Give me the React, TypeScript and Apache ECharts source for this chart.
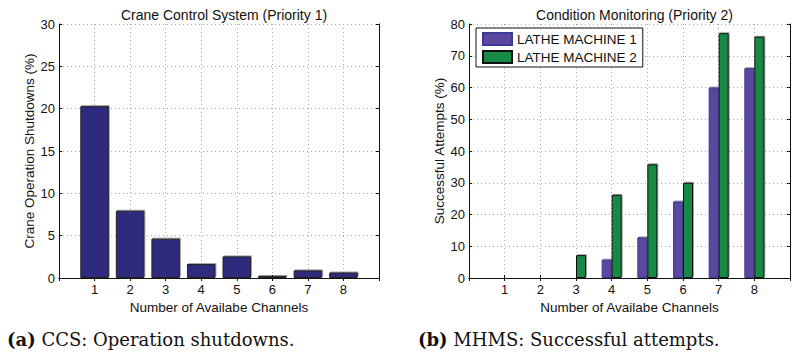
import React, { useEffect, useRef } from "react";
import * as echarts from "echarts";

const categories = ["1", "2", "3", "4", "5", "6", "7", "8"];
const ccsShutdowns = [20.3, 7.95, 4.65, 1.65, 2.55, 0.25, 0.9, 0.65];
const lathe1 = [0, 0, 0, 5.8, 12.8, 24.1, 60.0, 66.1];
const lathe2 = [0, 0, 7.2, 26.2, 35.8, 30.0, 77.1, 76.0];
const seriesNames = ["LATHE MACHINE 1", "LATHE MACHINE 2"];
const titles = ["Crane Control System (Priority 1)", "Condition Monitoring (Priority 2)"];
const yNames = ["Crane Operation Shutdowns (%)", "Successful Attempts (%)"];
const xName = "Number of Availabe Channels";
const captions = [
  ["(a)", " CCS: Operation shutdowns."],
  ["(b)", " MHMS: Successful attempts."],
];

const SANS = "Liberation Sans, Arial, sans-serif";
const padCats = ["", ...categories, ""];
const pad = (arr: number[]) => ["-", ...arr, "-"];

export default function App() {
  const ref = useRef<HTMLDivElement>(null);
  useEffect(() => {
    document.body.style.margin = "0";
    const chart = echarts.init(ref.current!, null, { renderer: "svg" });
    const grids = [
      { left: 59, top: 24, width: 320, height: 254 },
      { left: 469, top: 24, width: 321, height: 254 },
    ];
    const yMax = [30, 80];
    const yInt = [5, 10];
    const splitStyle = { color: "#a8a8a8", width: 1, type: [1, 3] as any };
    const xAxes: any[] = [];
    const yAxes: any[] = [];
    grids.forEach((_, i) => {
      xAxes.push({
        type: "category",
        gridIndex: i,
        data: padCats,
        boundaryGap: false,
        position: "bottom",
        name: xName,
        nameLocation: "middle",
        nameGap: 20,
        nameTextStyle: { fontFamily: SANS, fontSize: 13.5, color: "#111" },
        axisLine: { show: true, lineStyle: { color: "#111", width: 1 } },
        axisTick: { show: true, inside: true, length: 3, interval: 0, lineStyle: { color: "#111" } },
        axisLabel: { show: true, interval: 0, fontFamily: SANS, fontSize: 13, color: "#111", margin: 5 },
        splitLine: { show: true, interval: 0, lineStyle: splitStyle },
      });
      xAxes.push({
        type: "category",
        gridIndex: i,
        data: padCats,
        boundaryGap: false,
        position: "top",
        axisLine: { show: true, lineStyle: { color: "#111", width: 1 } },
        axisTick: { show: true, inside: true, length: 3, interval: 0, lineStyle: { color: "#111" } },
        axisLabel: { show: false },
        splitLine: { show: false },
      });
      yAxes.push({
        type: "value",
        gridIndex: i,
        min: 0,
        max: yMax[i],
        interval: yInt[i],
        position: "left",
        name: yNames[i],
        nameLocation: "middle",
        nameGap: i === 0 ? 22 : 21,
        nameTextStyle: { fontFamily: SANS, fontSize: 13.5, color: "#111" },
        axisLine: { show: true, lineStyle: { color: "#111", width: 1 } },
        axisTick: { show: true, inside: true, length: 3, lineStyle: { color: "#111" } },
        axisLabel: { fontFamily: SANS, fontSize: 13, color: "#111", margin: 4 },
        splitLine: { show: true, lineStyle: splitStyle },
      });
      yAxes.push({
        type: "value",
        gridIndex: i,
        min: 0,
        max: yMax[i],
        interval: yInt[i],
        position: "right",
        axisLine: { show: true, lineStyle: { color: "#111", width: 1 } },
        axisTick: { show: true, inside: true, length: 3, lineStyle: { color: "#111" } },
        axisLabel: { show: false },
        splitLine: { show: false },
      });
    });

    const shadow = { shadowColor: "rgba(0,0,0,0.35)", shadowOffsetX: 1, shadowOffsetY: -1, shadowBlur: 0 };

    chart.setOption({
      animation: false,
      backgroundColor: "#fff",
      title: titles.map((t, i) => ({
        text: t,
        left: grids[i].left + grids[i].width / 2,
        top: 3,
        textAlign: "center",
        textStyle: { fontFamily: SANS, fontSize: 14, fontWeight: "normal", color: "#111" },
      })),
      grid: grids.map((g) => ({ ...g, containLabel: false })),
      xAxis: xAxes,
      yAxis: yAxes,
      legend: {
        data: seriesNames,
        orient: "vertical",
        left: 476,
        top: 28,
        itemWidth: 29,
        itemHeight: 12,
        itemGap: 4,
        padding: [4, 6, 3, 6],
        backgroundColor: "#fff",
        borderColor: "#111",
        borderWidth: 1,
        borderRadius: 0,
        icon: "rect",
        textStyle: { fontFamily: SANS, fontSize: 13.5, color: "#111" },
      },
      series: [
        {
          type: "bar",
          name: "CCS",
          xAxisIndex: 0,
          yAxisIndex: 0,
          data: pad(ccsShutdowns),
          barWidth: 28.5,
          itemStyle: { color: "#2f2a7e", borderColor: "#222", borderWidth: 1, ...shadow },
        },
        {
          type: "bar",
          name: seriesNames[0],
          xAxisIndex: 2,
          yAxisIndex: 2,
          data: pad(lathe1),
          barWidth: 10,
          barGap: "0%",
          itemStyle: { color: "#5c469e", borderColor: "#3a3a96", borderWidth: 1, ...shadow },
        },
        {
          type: "bar",
          name: seriesNames[1],
          xAxisIndex: 2,
          yAxisIndex: 2,
          data: pad(lathe2),
          barWidth: 10,
          barGap: "0%",
          itemStyle: { color: "#178a45", borderColor: "#111", borderWidth: 1, ...shadow },
        },
      ],
      graphic: captions.map((c, i) => ({
        type: "text",
        left: i === 0 ? 7 : 418,
        top: 330,
        style: {
          text: `{b|${c[0]}}{n|${c[1]}}`,
          rich: {
            b: { fontFamily: "DejaVu Serif, serif", fontSize: 18, fontWeight: "bold", fill: "#111" },
            n: { fontFamily: "DejaVu Serif, serif", fontSize: 18, fill: "#111" },
          },
        },
      })),
    });
    return () => chart.dispose();
  }, []);
  return <div ref={ref} style={{ width: 796, height: 356 }} />;
}
